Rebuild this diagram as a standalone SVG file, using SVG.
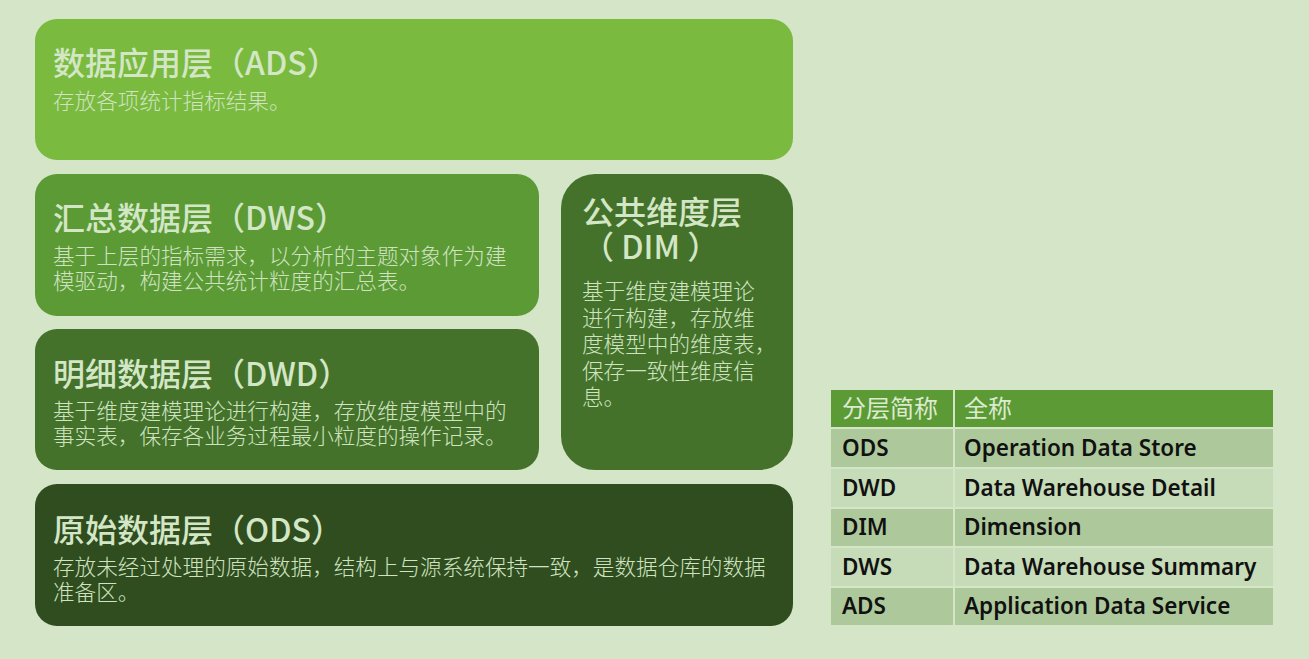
<svg xmlns="http://www.w3.org/2000/svg" width="1309" height="659" viewBox="0 0 1309 659">
<style>
.t{font-family:"Noto Sans CJK SC","Noto Sans",sans-serif;font-weight:500;font-size:32px;fill:#d3e6c6}
.b{font-family:"Noto Sans CJK SC","Noto Sans",sans-serif;font-weight:300;font-size:21.6px;fill:#cfe3c1}
.th{font-family:"Noto Sans CJK SC",sans-serif;font-weight:400;font-size:24px;fill:#dcebd0}
.td{font-family:"Noto Sans","Noto Sans CJK SC",sans-serif;font-weight:600;font-size:22.5px;fill:#111}
.rowA{fill:#adc99b}
.rowB{fill:#c6dbb7}
</style>
<rect width="1309" height="659" fill="#d5e5c8"/>
<g id="ads">
<rect x="35" y="19" width="758" height="141" rx="22" fill="#7aba3e"/>
<text class="t" x="53" y="75">数据应用层（ADS）</text>
<text class="b" x="53" y="109">存放各项统计指标结果。</text>
</g>
<g id="dws">
<rect x="35" y="174" width="504" height="142" rx="22" fill="#5c9a36"/>
<text class="t" x="53" y="230">汇总数据层（DWS）</text>
<text class="b" x="53" y="264">基于上层的指标需求，以分析的主题对象作为建</text>
<text class="b" x="53" y="289">模驱动，构建公共统计粒度的汇总表。</text>
</g>
<g id="dim">
<rect x="561" y="174" width="232" height="296" rx="34" fill="#44722a"/>
<text class="t" x="582" y="224">公共维度层</text>
<text class="t" x="582" y="259">（ DIM ）</text>
<text class="b" x="582" y="299">基于维度建模理论</text>
<text class="b" x="582" y="326">进行构建，存放维</text>
<text class="b" x="582" y="352">度模型中的维度表，</text>
<text class="b" x="582" y="379">保存一致性维度信</text>
<text class="b" x="582" y="405">息。</text>
</g>
<g id="dwd">
<rect x="35" y="329" width="504" height="141" rx="22" fill="#44722a"/>
<text class="t" x="53" y="386">明细数据层（DWD）</text>
<text class="b" x="53" y="419">基于维度建模理论进行构建，存放维度模型中的</text>
<text class="b" x="53" y="444">事实表，保存各业务过程最小粒度的操作记录。</text>
</g>
<g id="ods">
<rect x="35" y="484" width="758" height="142" rx="22" fill="#2f4d1e"/>
<text class="t" x="53" y="542">原始数据层（ODS）</text>
<text class="b" x="53" y="575">存放未经过处理的原始数据，结构上与源系统保持一致，是数据仓库的数据</text>
<text class="b" x="53" y="600">准备区。</text>
</g>
<g id="table">
<rect x="831" y="390" width="122" height="37" fill="#5c9a36"/>
<rect x="955" y="390" width="318" height="37" fill="#5c9a36"/>
<rect class="rowA" x="831" y="429" width="122" height="38"/>
<rect class="rowA" x="955" y="429" width="318" height="38"/>
<rect class="rowB" x="831" y="469" width="122" height="38"/>
<rect class="rowB" x="955" y="469" width="318" height="38"/>
<rect class="rowA" x="831" y="509" width="122" height="37"/>
<rect class="rowA" x="955" y="509" width="318" height="37"/>
<rect class="rowB" x="831" y="548" width="122" height="38"/>
<rect class="rowB" x="955" y="548" width="318" height="38"/>
<rect class="rowA" x="831" y="588" width="122" height="37"/>
<rect class="rowA" x="955" y="588" width="318" height="37"/>
<text class="th" x="842" y="417">分层简称</text>
<text class="th" x="964" y="417">全称</text>
<text class="td" x="842" y="456">ODS</text>
<text class="td" x="964" y="456">Operation Data Store</text>
<text class="td" x="842" y="496">DWD</text>
<text class="td" x="964" y="496">Data Warehouse Detail</text>
<text class="td" x="842" y="535">DIM</text>
<text class="td" x="964" y="535">Dimension</text>
<text class="td" x="842" y="575">DWS</text>
<text class="td" x="964" y="575">Data Warehouse Summary</text>
<text class="td" x="842" y="614">ADS</text>
<text class="td" x="964" y="614">Application Data Service</text>
</g>
<g id="connectors"></g>
</svg>
